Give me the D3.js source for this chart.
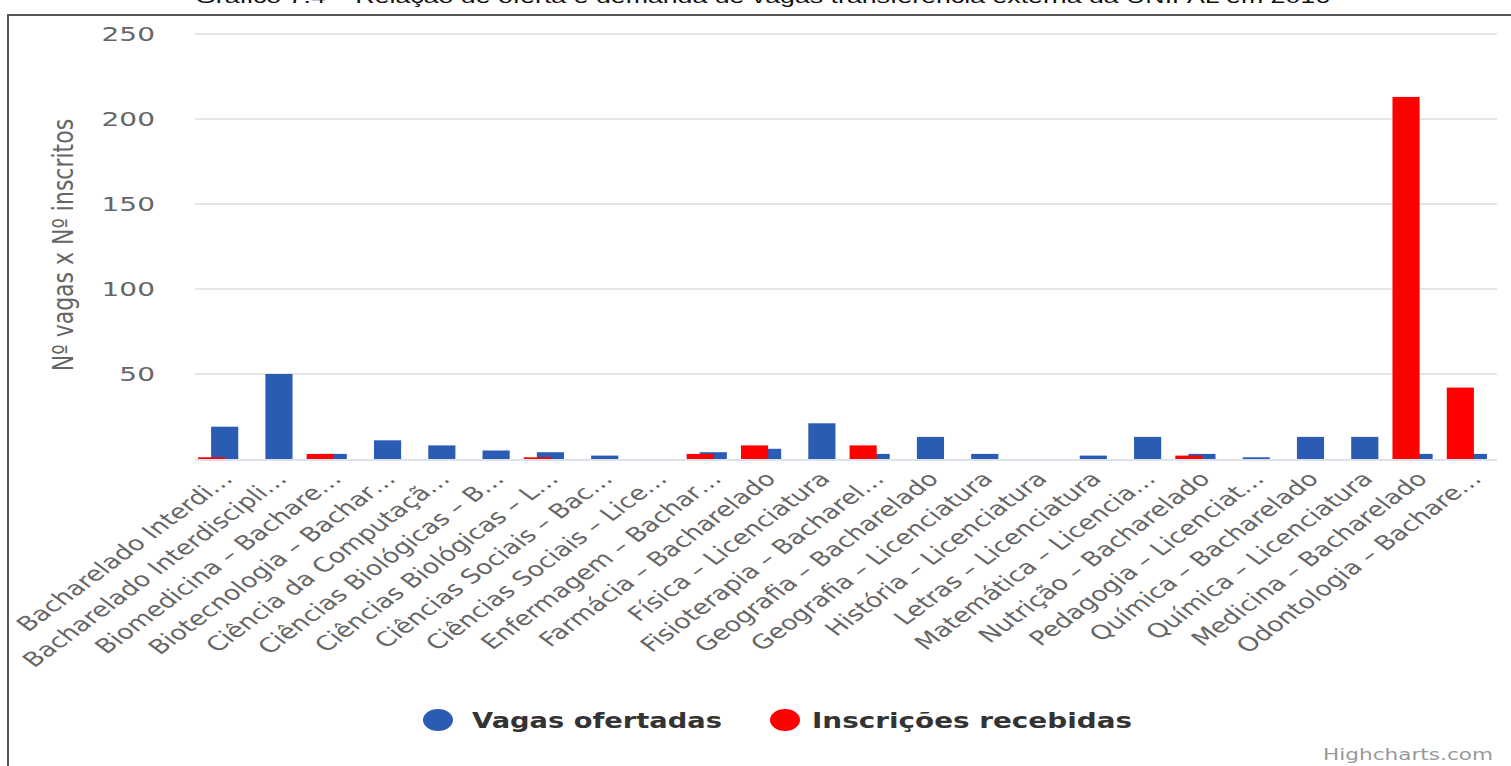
<!DOCTYPE html>
<html>
<head>
<meta charset="utf-8">
<script src="https://cdn.jsdelivr.net/npm/d3@7"></script>
<style>
  body { margin: 0; background: #fff; }
  svg { display: block; font-family: "DejaVu Sans", sans-serif; }
</style>
</head>
<body>
<svg id="chart" width="1511" height="766"></svg>
<script>
// data
var categories = [
  "Bacharelado Interdi…", "Bacharelado Interdiscipli…", "Biomedicina – Bachare…",
  "Biotecnologia – Bachar…", "Ciência da Computaçã…", "Ciências Biológicas – B…",
  "Ciências Biológicas – L…", "Ciências Sociais – Bac…", "Ciências Sociais – Lice…",
  "Enfermagem – Bachar…", "Farmácia – Bacharelado", "Física – Licenciatura",
  "Fisioterapia – Bacharel…", "Geografia – Bacharelado", "Geografia – Licenciatura",
  "História – Licenciatura", "Letras – Licenciatura", "Matemática – Licencia…",
  "Nutrição – Bacharelado", "Pedagogia – Licenciat…", "Química – Bacharelado",
  "Química – Licenciatura", "Medicina – Bacharelado", "Odontologia – Bachare…"
];
var vagas = [19, 50, 3, 11, 8, 5, 4, 2, 0, 4, 6, 21, 3, 13, 3, 0, 2, 13, 3, 1, 13, 13, 3, 3];
var inscricoes = [1, 0, 3, 0, 0, 0, 1, 0, 0, 3, 8, 0, 8, 0, 0, 0, 0, 0, 2, 0, 0, 0, 213, 42];
var yTicks = [50, 100, 150, 200, 250];
var seriesNames = ["Vagas ofertadas", "Inscrições recebidas"];
var seriesColors = ["#2b5cb3", "#ff0000"];

var svg = d3.select("#chart");

var x = d3.scaleBand().domain(categories).range([191, 1494]).padding(0);
var y = d3.scaleLinear().domain([0, 250]).range([459, 34]);
var bw = x.bandwidth();

// frame
svg.append("path")
    .attr("d", "M8,766 L8,15 L1511,15")
    .attr("fill", "none")
    .attr("stroke", "#555")
    .attr("stroke-width", 2);

// title, cut off at the top edge as in the source
svg.append("text")
    .attr("x", 195)
    .attr("y", 3)
    .attr("textLength", 1135)
    .attr("lengthAdjust", "spacingAndGlyphs")
    .style("font-family", "'Liberation Sans', Arial, sans-serif")
    .style("font-size", "18px")
    .attr("fill", "#111")
    .text("Gráfico 7.4 – Relação de oferta e demanda de vagas transferência externa da UNIFAL em 2016");

// gridlines
svg.append("g")
  .selectAll("line")
  .data(yTicks)
  .join("line")
    .attr("x1", 195)
    .attr("x2", 1497)
    .attr("y1", function(d) { return y(d); })
    .attr("y2", function(d) { return y(d); })
    .attr("stroke", "#e6e6e6")
    .attr("stroke-width", 2);

// y axis labels
svg.append("g")
  .selectAll("text")
  .data(yTicks)
  .join("text")
    .attr("text-anchor", "end")
    .attr("transform", function(d) { return "translate(155," + (y(d) + 7) + ") scale(1.4,1)"; })
    .style("font-size", "20px")
    .attr("fill", "#666")
    .text(function(d) { return d; });

svg.append("text")
    .attr("transform", "translate(73,245) scale(1.25,1) rotate(-90)")
    .attr("text-anchor", "middle")
    .style("font-size", "22px")
    .attr("fill", "#666")
    .text("Nº vagas x Nº inscritos");

// baseline
svg.append("line")
    .attr("x1", 195)
    .attr("x2", 1497)
    .attr("y1", y(0) + 1)
    .attr("y2", y(0) + 1)
    .attr("stroke", "#dde2ea")
    .attr("stroke-width", 2);

// bars: blue behind, red in front, overlapping
svg.append("g")
    .attr("fill", seriesColors[0])
  .selectAll("rect")
  .data(vagas)
  .join("rect")
    .attr("x", function(d, i) { return x(categories[i]) + bw * 0.37; })
    .attr("width", bw * 0.5)
    .attr("y", function(d) { return y(d); })
    .attr("height", function(d) { return y(0) - y(d); });

svg.append("g")
    .attr("fill", seriesColors[1])
  .selectAll("rect")
  .data(inscricoes)
  .join("rect")
    .attr("x", function(d, i) { return x(categories[i]) + bw * 0.13; })
    .attr("width", bw * 0.5)
    .attr("y", function(d) { return y(d); })
    .attr("height", function(d) { return y(0) - y(d); });

// category labels
svg.append("g")
  .selectAll("text")
  .data(categories)
  .join("text")
    .attr("text-anchor", "end")
    .attr("transform", function(d) {
      return "translate(" + (x(d) + bw / 2 + 16) + ",480) scale(1.35,1) rotate(-45)";
    })
    .style("font-size", "20px")
    .attr("fill", "#666")
    .text(function(d) { return d; });

// legend
var legendX = [438, 785];
var legendTextX = [472, 812];
var legendLen = [250, 320];
var legend = svg.append("g")
  .selectAll("g")
  .data(seriesNames)
  .join("g");

legend.append("ellipse")
    .attr("cx", function(d, i) { return legendX[i]; })
    .attr("cy", 720)
    .attr("rx", 15)
    .attr("ry", 11)
    .attr("fill", function(d, i) { return seriesColors[i]; });

legend.append("text")
    .attr("x", function(d, i) { return legendTextX[i]; })
    .attr("y", 728)
    .attr("textLength", function(d, i) { return legendLen[i]; })
    .attr("lengthAdjust", "spacingAndGlyphs")
    .style("font-size", "21px")
    .style("font-weight", "bold")
    .attr("fill", "#333")
    .text(function(d) { return d; });

// credits
svg.append("text")
    .attr("x", 1323)
    .attr("y", 760)
    .attr("textLength", 170)
    .attr("lengthAdjust", "spacingAndGlyphs")
    .style("font-size", "15px")
    .attr("fill", "#999")
    .text("Highcharts.com");
</script>
</body>
</html>
